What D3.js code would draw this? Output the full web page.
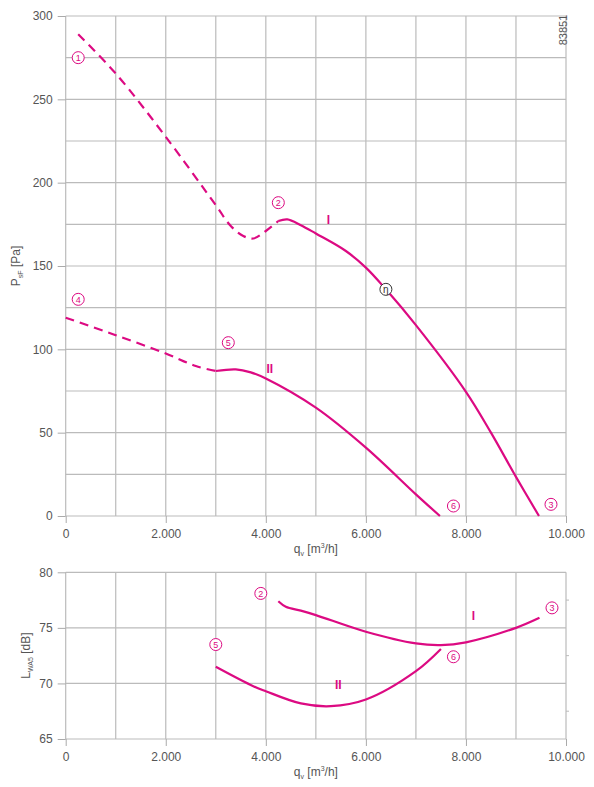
<!DOCTYPE html>
<html>
<head>
<meta charset="utf-8">
<script src="https://cdn.jsdelivr.net/npm/d3@7"></script>
<style>
  body { margin: 0; background: #fff; }
  svg { display: block; font-family: "Liberation Sans", Arial, sans-serif; }
  .tick text { fill: #555; font-size: 12px; }
  .tick line { stroke: #aaa; }
</style>
</head>
<body>
<svg id="chart" width="594" height="787"></svg>
<script>
// pressure curves (q in m3/h, p in Pa)
const curveIDashQ = [250, 1000, 2000, 3000, 3300, 3550, 3750, 4000, 4250];
const curveIDashP = [289, 265.5, 227.5, 186.5, 174, 168, 166.5, 171, 177];
const curveISolidQ = [4250, 4430, 4700, 5000, 5600, 6000, 6400, 7000, 8000, 8500, 9000, 9460];
const curveISolidP = [177, 178, 174.5, 169.5, 159, 149, 136, 114.5, 74.5, 50, 23.5, 0];
const curveIIDashQ = [0, 1000, 2000, 2600, 3000];
const curveIIDashP = [119, 108.5, 97.5, 90, 87];
const curveIISolidQ = [3000, 3400, 3700, 4000, 5000, 6000, 7000, 7480];
const curveIISolidP = [87, 88, 86.2, 82.5, 65, 41, 13, 0];

// sound power curves (dB)
const noiseIQ = [4250, 4400, 4700, 5000, 6000, 7000, 7500, 8000, 9000, 9470];
const noiseIL = [77.4, 76.9, 76.55, 76.15, 74.65, 73.6, 73.45, 73.7, 75.0, 75.9];
const noiseIIQ = [3000, 3750, 4000, 4700, 5300, 6000, 7000, 7500];
const noiseIIL = [71.5, 69.75, 69.3, 68.2, 67.95, 68.55, 71.1, 73.1];

// axis ticks
const qTicks = [0, 2000, 4000, 6000, 8000, 10000];
const qGrid = d3.range(0, 10001, 1000);
const pTicks = [0, 50, 100, 150, 200, 250, 300];
const pGrid = d3.range(0, 301, 25);
const lTicks = [65, 70, 75, 80];

// operating point labels [q, value, text]
const topMarks = [[250, 275, "1"], [4250, 188, "2"], [9700, 7, "3"], [250, 130, "4"], [3250, 104, "5"], [7750, 6, "6"]];
const topRoman = [[5250, 175, "I"], [4080, 86, "II"]];
const etaPoint = [6400, 136];
const bottomMarks = [[3900, 78.1, "2"], [9720, 76.8, "3"], [3000, 73.5, "5"], [7750, 72.4, "6"]];
const bottomRoman = [[8150, 75.7, "I"], [5450, 69.5, "II"]];

const pink = "#dc0a82";
const svg = d3.select("#chart");
const fmt = d3.formatLocale({ decimal: ",", thousands: ".", grouping: [3], currency: ["", ""] }).format(",");

const x = d3.scaleLinear().domain([0, 10000]).range([65.7, 566]);
const yP = d3.scaleLinear().domain([0, 300]).range([516, 16]);
const yL = d3.scaleLinear().domain([65, 80]).range([739, 572.3]);

const zip = (qs, vs) => qs.map((q, i) => [q, vs[i]]);

function panel(y, yTicks, yGrid, yTitle, ySub, yUnit, yTitleX, xTitleY) {
  const g = svg.append("g");
  // grid
  g.selectAll(".vg").data(qGrid).enter().append("line")
    .attr("x1", (d) => x(d)).attr("x2", (d) => x(d))
    .attr("y1", y.range()[0]).attr("y2", y.range()[1])
    .attr("stroke", "#bbb").attr("stroke-width", 1.2);
  g.selectAll(".hg").data(yGrid).enter().append("line")
    .attr("x1", x(0)).attr("x2", x(10000))
    .attr("y1", (d) => y(d)).attr("y2", (d) => y(d))
    .attr("stroke", "#bbb").attr("stroke-width", 1.2);

  const ax = g.append("g").attr("transform", `translate(0,${y.range()[0]})`)
    .call(d3.axisBottom(x).tickValues(qTicks).tickFormat((d) => (d === 0 ? "0" : fmt(d))).tickSize(7).tickPadding(6));
  ax.select(".domain").remove();
  const ay = g.append("g").attr("transform", `translate(${x(0)},0)`)
    .call(d3.axisLeft(y).tickValues(yTicks).tickSize(8).tickPadding(5));
  ay.select(".domain").remove();

  // x title
  const xt = g.append("text").attr("x", x(5000)).attr("y", xTitleY)
    .attr("text-anchor", "middle").attr("fill", "#555").attr("font-size", 12);
  xt.append("tspan").text("q");
  xt.append("tspan").attr("font-size", 7).attr("dy", 3).text("v");
  xt.append("tspan").attr("dy", -3).text(" [m");
  xt.append("tspan").attr("font-size", 7).attr("dy", -5).text("3");
  xt.append("tspan").attr("dy", 5).text("/h]");

  // y title
  const yc = (y.range()[0] + y.range()[1]) / 2;
  const yt = g.append("text").attr("transform", `translate(${yTitleX},${yc}) rotate(-90)`)
    .attr("text-anchor", "middle").attr("fill", "#555").attr("font-size", 12);
  yt.append("tspan").text(yTitle);
  yt.append("tspan").attr("font-size", 7).attr("dy", 3).text(ySub);
  yt.append("tspan").attr("dy", -3).text(" " + yUnit);
  return g;
}

const topPanel = panel(yP, pTicks, pGrid, "P", "sF", "[Pa]", 20, 553);
const bottomPanel = panel(yL, lTicks, [65, 70, 75, 80], "L", "WA5", "[dB]", 30, 776);

// small minor ticks in bottom panel
bottomPanel.selectAll(".minor").data([67.5, 72.5, 77.5]).enter().append("line")
  .attr("x1", x(10000)).attr("x2", x(10000) + 3)
  .attr("y1", (d) => yL(d)).attr("y2", (d) => yL(d))
  .attr("stroke", "#bbb");

function drawCurve(g, y, data, dashed) {
  const line = d3.line().x((d) => x(d[0])).y((d) => y(d[1])).curve(d3.curveCatmullRom.alpha(0.5));
  g.append("path").datum(data).attr("d", line)
    .attr("fill", "none").attr("stroke", pink).attr("stroke-width", 2.2)
    .attr("stroke-dasharray", dashed ? "9,6" : null);
}

drawCurve(topPanel, yP, zip(curveIDashQ, curveIDashP), true);
drawCurve(topPanel, yP, zip(curveISolidQ, curveISolidP), false);
drawCurve(topPanel, yP, zip(curveIIDashQ, curveIIDashP), true);
drawCurve(topPanel, yP, zip(curveIISolidQ, curveIISolidP), false);
drawCurve(bottomPanel, yL, zip(noiseIQ, noiseIL), false);
drawCurve(bottomPanel, yL, zip(noiseIIQ, noiseIIL), false);

function circled(g, cx, cy, label, color, size) {
  g.append("circle").attr("cx", cx).attr("cy", cy).attr("r", 6)
    .attr("fill", "#fff").attr("stroke", color).attr("stroke-width", 1);
  g.append("text").attr("x", cx).attr("y", cy + 3.2).attr("text-anchor", "middle")
    .attr("fill", color).attr("font-size", size).text(label);
}

topMarks.forEach((d) => circled(topPanel, x(d[0]), yP(d[1]), d[2], pink, 9));
bottomMarks.forEach((d) => circled(bottomPanel, x(d[0]), yL(d[1]), d[2], pink, 9));
circled(topPanel, x(etaPoint[0]), yP(etaPoint[1]), "η", "#333", 10);

function roman(g, px, py, t) {
  g.append("text").attr("x", px).attr("y", py).attr("text-anchor", "middle")
    .attr("fill", pink).attr("font-size", 12).attr("font-weight", "bold").text(t);
}
topRoman.forEach((d) => roman(topPanel, x(d[0]), yP(d[1]), d[2]));
bottomRoman.forEach((d) => roman(bottomPanel, x(d[0]), yL(d[1]), d[2]));

// drawing number
svg.append("text").attr("transform", "translate(567,30) rotate(-90)")
  .attr("text-anchor", "middle").attr("fill", "#555").attr("font-size", 11).text("83851");
</script>
</body>
</html>
